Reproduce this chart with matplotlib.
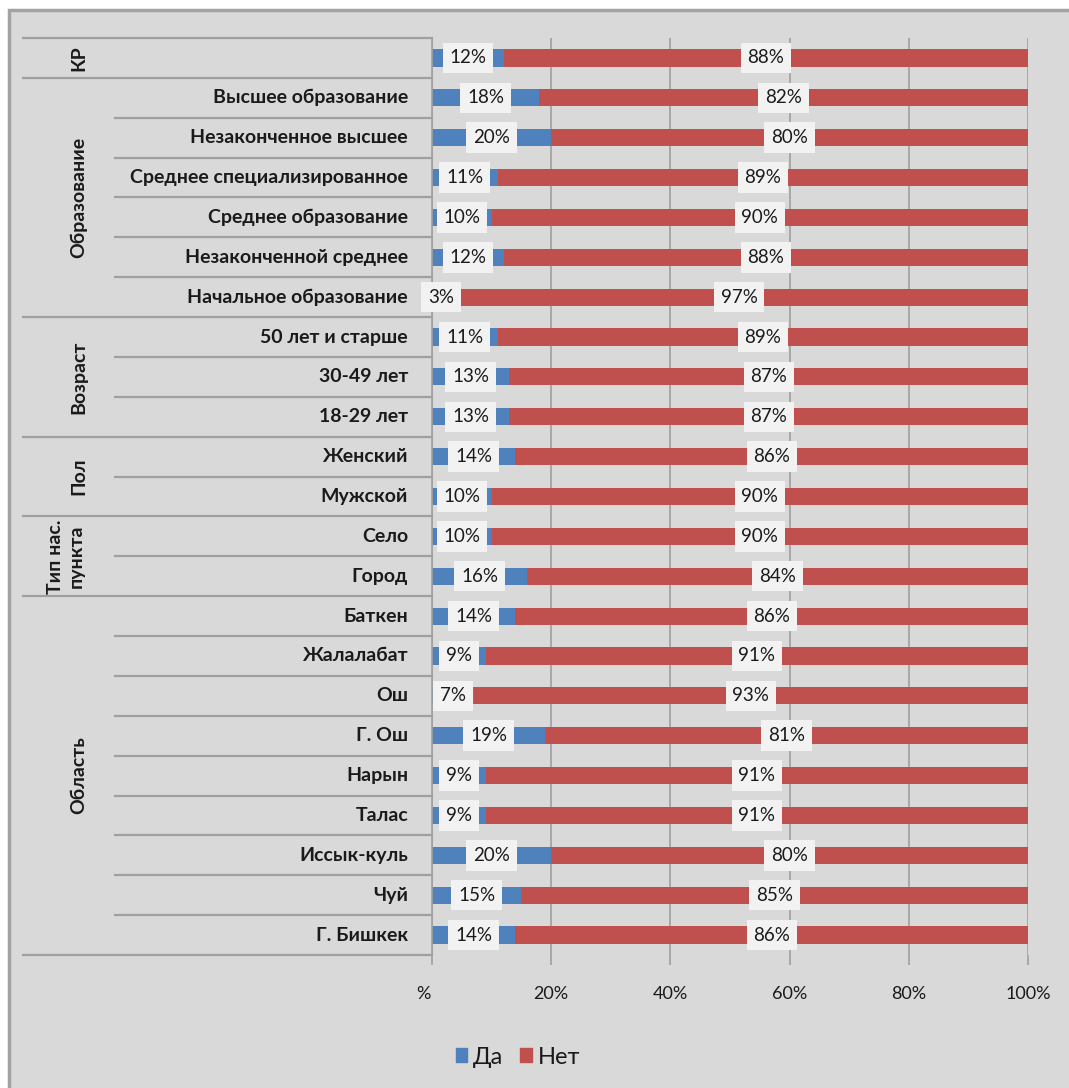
import matplotlib
matplotlib.use("Agg")
import matplotlib.pyplot as plt
from matplotlib.patches import Rectangle, Patch
from matplotlib.lines import Line2D
from matplotlib.transforms import blended_transform_factory, ScaledTranslation

plt.rcParams['font.family'] = ['Lato', 'DejaVu Sans']

# группы и категории (сверху вниз)
groups = ['КР', 'Образование', 'Возраст', 'Пол', 'Тип нас.\nпункта', 'Область']
group_sizes = [1, 6, 3, 2, 2, 9]
categories = ['', 'Высшее образование', 'Незаконченное высшее', 'Среднее специализированное',
              'Среднее образование', 'Незаконченной среднее', 'Начальное образование',
              '50 лет и старше', '30-49 лет', '18-29 лет',
              'Женский', 'Мужской',
              'Село', 'Город',
              'Баткен', 'Жалалабат', 'Ош', 'Г. Ош', 'Нарын', 'Талас', 'Иссык-куль', 'Чуй', 'Г. Бишкек']
yes = [12, 18, 20, 11, 10, 12, 3, 11, 13, 13, 14, 10, 10, 16, 14, 9, 7, 19, 9, 9, 20, 15, 14]
no = [88, 82, 80, 89, 90, 88, 97, 89, 87, 87, 86, 90, 90, 84, 86, 91, 93, 81, 91, 91, 80, 85, 86]
xticks = [0, 20, 40, 60, 80, 100]
xtick_labels = ['%', '20%', '40%', '60%', '80%', '100%']

W, H = 1069, 1088
fig = plt.figure(figsize=(W / 100, H / 100), dpi=100, facecolor='white')


def fx(x):
    return x / W


def fy(y):
    return 1 - y / H


# серый фон диаграммы с рамкой
fig.add_artist(Rectangle((fx(9), fy(1110)), fx(1100) - fx(9), fy(10) - fy(1110),
                         transform=fig.transFigure, facecolor='#d9d9d9',
                         edgecolor='#a3a3a3', lw=2.5, zorder=0))

ax = fig.add_axes([fx(432), fy(955), fx(1028) - fx(432), fy(38) - fy(955)])
ax.patch.set_alpha(0)

y = list(range(len(categories)))
ax.barh(y, yes, height=0.43, color='#4f81bd', zorder=2)
ax.barh(y, no, left=yes, height=0.43, color='#c0504d', zorder=2)

box = dict(boxstyle='square,pad=0.36', fc='#f2f2f2', ec='none')
for i in y:
    ax.text(yes[i] / 2, i, f'{yes[i]}%', ha='center', va='center', fontsize=13.5,
            color='#1a1a1a', bbox=box, zorder=4)
    ax.text(yes[i] + no[i] / 2, i, f'{no[i]}%', ha='center', va='center', fontsize=13.5,
            color='#1a1a1a', bbox=box, zorder=4)

ax.set_xlim(0, 100)
ax.set_ylim(len(categories) - 0.5, -0.5)
ax.set_xticks(xticks)
ax.set_xticklabels(xtick_labels)
ax.xaxis.grid(True, color='#a0a0a0', lw=1.2)
ax.set_axisbelow(True)
ax.tick_params(axis='x', direction='out', length=7, color='#a0a0a0', width=1.2,
               pad=15, labelsize=13, labelcolor='#1a1a1a')
ax.tick_params(axis='y', left=False, labelleft=False)
# "%" под нулём чуть левее, как в оригинале
first = ax.get_xticklabels()[0]
first.set_transform(first.get_transform() + ScaledTranslation(-9 / 100, 0, fig.dpi_scale_trans))
for s in ['top', 'right', 'bottom']:
    ax.spines[s].set_visible(False)
ax.spines['left'].set_color('#a0a0a0')
ax.spines['left'].set_linewidth(1.2)

# левая двухуровневая ось категорий
trans = blended_transform_factory(fig.transFigure, ax.transData)
group_edges = [-0.5]
for n in group_sizes:
    group_edges.append(group_edges[-1] + n)
for b in group_edges:
    fig.add_artist(Line2D([fx(23), fx(432)], [b, b], transform=trans, color='#a0a0a0', lw=1.6))
for i in range(len(categories) - 1):
    b = i + 0.5
    if b not in group_edges:
        fig.add_artist(Line2D([fx(115), fx(432)], [b, b], transform=trans, color='#a0a0a0', lw=1.6))

for i, c in enumerate(categories):
    fig.text(fx(408), i, c, transform=trans, ha='right', va='center', fontsize=14,
             weight='bold', color='#1a1a1a')

for g, a, b in zip(groups, group_edges[:-1], group_edges[1:]):
    x = 66 if '\n' in g else 79
    fig.text(fx(x), (a + b) / 2, g, transform=trans, rotation=90, ha='center', va='center',
             fontsize=14, weight='bold', color='#1a1a1a', linespacing=1.3,
             multialignment='center')

handles = [Patch(color='#4f81bd', label='Да'), Patch(color='#c0504d', label='Нет')]
fig.legend(handles=handles, loc='center', bbox_to_anchor=(fx(518), fy(1057)), ncol=2,
           frameon=False, fontsize=17, handlelength=0.5, handleheight=0.5,
           handletextpad=0.25, columnspacing=0.7, labelcolor='#1a1a1a')

fig.savefig('out.png', dpi=100, facecolor='white')
